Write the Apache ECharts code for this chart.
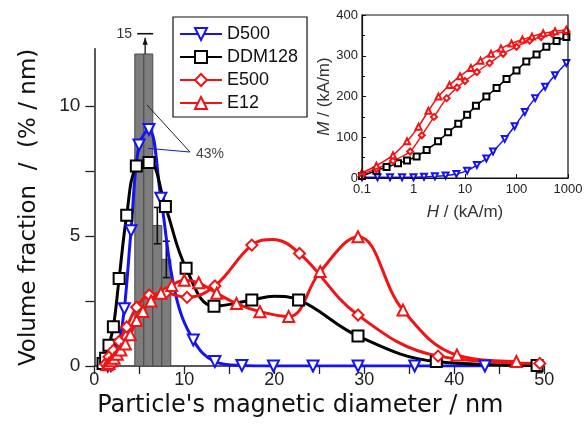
<!DOCTYPE html>
<html><head><meta charset="utf-8">
<script src="https://cdn.jsdelivr.net/npm/echarts@6/dist/echarts.min.js"></script>
<style>html,body{margin:0;padding:0;background:#fff}#c{width:586px;height:434px}</style>
</head><body><div id="c"></div>
<script>
// ---------- main chart data: [diameter / nm, volume fraction / (%/nm), (0 = curve point without marker)] ----------
const d500 = [[1.5,0],[1.84,0.02],[2.24,0.15],[2.74,0.8],[3.34,2.2],[4.08,5.2],[4.97,8.5],[6.07,9.1],[7.4,6.45],[9.0,2.8,0],[11.0,1.0],[13.4,0.17],[16.4,0.02],[19.9,0],[24.3,0],[29.3,0],[35.6,0],[43.4,0]];
const ddm128 = [[0.97,0.1],[1.26,0.3],[1.63,0.8],[2.12,1.51],[2.76,3.37],[3.6,5.8],[4.67,7.69],[6.08,7.83],[7.9,6.13],[10.2,3.76],[13.3,2.3],[17.5,2.54],[20.0,2.68,0],[22.7,2.54],[29.3,1.15],[38.0,0.17],[49.2,0.02]];
const e500 = [[1.25,0.08],[1.63,0.35],[2.12,0.6],[2.76,0.95],[3.6,1.5],[4.7,2.26],[6.1,2.73],[7.9,2.8],[10.3,2.64],[13.4,3.08],[17.5,4.65],[19.8,4.87,0],[22.8,4.33],[29.3,1.96],[38.2,0.38],[49.5,0.1]];
const e12 = [[1.4,0.05],[1.63,0.1],[1.9,0.2],[2.2,0.3],[2.55,0.45],[2.95,0.62],[3.45,0.85],[4.0,1.2],[4.7,1.75],[5.4,2.1],[6.3,2.5],[7.4,2.8],[8.6,3.1],[10.0,3.3],[11.6,3.2],[13.6,2.8],[15.8,2.4],[18.4,2.09],[21.6,1.9],[25.1,3.63],[29.3,4.97],[34.3,2.15],[40.3,0.42],[46.9,0.17]];

// histogram (1 nm bins)
const histCenters = [5, 6, 7, 8];
const histValues = [12, 15, 5.4, 4.1];
const histErrors = [0, 0, 0.7, 0.7];
const histBinWidth = 1;
const histCap = 12;          // bars taller than this are cut
const histArrowX = 5.65;     // overflow arrow position
const histArrowTop = 12.78;
const histOverflowLabel = '15';

// callout
const calloutText = '43%';
const calloutJoint = [10.63, 8.23];
const calloutBarPoint = [5.86, 10.04];
const calloutCurvePoint = [6.0, 8.37];

// ---------- inset data: [H / (kA/m), M / (kA/m)] ----------
const insD500 = [[0.1,2],[0.2,2],[0.35,2],[0.6,2],[1.0,2],[1.6,3],[2.6,4],[4.2,6],[6.8,10],[11,18],[17,32],[26,48],[35,65],[59,96],[92,127],[145,162],[230,196],[360,224],[560,252],[930,282]];
const insDDM128 = [[0.1,5],[0.19,18],[0.3,27],[0.5,36],[0.75,43],[1.15,53],[1.8,69],[3,90],[4.7,112],[7.4,133],[11,155],[16.3,177],[26,200],[41,221],[64,243],[100,264],[155,286],[245,303],[380,322],[600,336],[930,346]];
const insE500 = [[0.1,10],[0.19,22],[0.4,42],[0.86,65],[1.45,105],[2.5,150],[4.4,196],[7,222],[10,238],[17,260],[30,282],[55,305],[100,322],[180,337],[300,346],[500,353],[930,360]];
const insE12 = [[0.1,13],[0.19,30],[0.4,56],[0.75,90],[1.25,126],[1.95,165],[3.05,200],[5,228],[8,250],[13,270],[20,288],[32,305],[50,318],[80,330],[130,340],[200,347],[330,355],[560,360],[930,364]];

const yTickValues = [0, 2.5, 5, 7.5, 10];
const yLabelValues = [0, 5, 10];
const yMainMax = 12.2;

const BLUE = '#1414f0', BLACK = '#000000', RED = '#f01414';
const FONT = 'Liberation Sans, Arial, sans-serif';
const TFONT = 'DejaVu Sans, Verdana, sans-serif';

const chart = echarts.init(document.getElementById('c'), null, {renderer: 'canvas'});

const toData = arr => arr.map(p => (p[2] === 0 ? {value: [p[0], p[1]], symbol: 'none'} : [p[0], p[1]]));

function mainLine(name, data, color, symbol, rotate) {
  return {
    name, type: 'line', xAxisIndex: 0, yAxisIndex: 0, data: toData(data), smooth: 0.4,
    symbol, symbolSize: 11, symbolRotate: rotate || 0, showAllSymbol: true,
    itemStyle: {color, borderWidth: 1.8},
    lineStyle: {color, width: 3}, z: 3, animation: false
  };
}
function insetLine(name, data, color, symbol, rotate) {
  return {
    name, type: 'line', xAxisIndex: 1, yAxisIndex: 1, data, smooth: 0.3,
    symbol, symbolSize: 6, symbolRotate: rotate || 0, showAllSymbol: true,
    itemStyle: {color, borderWidth: 1.2},
    lineStyle: {color, width: 1.5}, z: 3, animation: false
  };
}

const option = {
  animation: false,
  backgroundColor: '#fff',
  grid: [
    {left: 94.3, top: 366 - yMainMax * 26, width: 450, height: yMainMax * 26},
    {left: 362, top: 15, width: 206, height: 163, show: true, borderColor: '#111', borderWidth: 1.2, backgroundColor: 'transparent', z: 5}
  ],
  legend: {
    data: ['D500','DDM128','E500','E12'],
    orient: 'vertical', left: 173, top: 17,
    itemWidth: 42, itemHeight: 15, itemGap: 5,
    padding: [8, 9, 5, 6],
    backgroundColor: '#fff', borderColor: '#111', borderWidth: 1.2,
    textStyle: {fontFamily: FONT, fontSize: 18, color: '#111'},
    selectedMode: false, z: 10
  },
  xAxis: [
    {type: 'value', gridIndex: 0, min: 0, max: 50, interval: 5,
     axisLine: {onZero: false, lineStyle: {color: '#222', width: 1.5}},
     axisTick: {length: 8, lineStyle: {color: '#222', width: 1.3}},
     axisLabel: {fontFamily: FONT, fontSize: 18, color: '#222', margin: 5,
                 formatter: v => (v % 10 === 0 ? String(v) : '')},
     splitLine: {show: false},
     name: "Particle's magnetic diameter / nm", nameLocation: 'middle', nameGap: 28,
     nameTextStyle: {fontFamily: TFONT, fontSize: 24, color: '#111', padding: [0, 38, 0, 0]}},
    {type: 'log', gridIndex: 1, min: 0.1, max: 1000, logBase: 10,
     axisLine: {lineStyle: {color: '#111', width: 1.2}},
     axisTick: {inside: true, length: 4, lineStyle: {color: '#111'}},
     axisLabel: {fontFamily: FONT, fontSize: 13, color: '#222', margin: 5,
                 formatter: v => String(+Number(v).toPrecision(4))},
     splitLine: {show: false},
     name: '{i|H} / (kA/m)', nameLocation: 'middle', nameGap: 26,
     nameTextStyle: {fontFamily: FONT, fontSize: 17, color: '#333',
                     rich: {i: {fontStyle: 'italic', fontFamily: FONT, fontSize: 17, color: '#333'}}}}
  ],
  yAxis: [
    {type: 'value', gridIndex: 0, min: 0, max: yMainMax, interval: 2.5,
     axisLine: {show: true, onZero: false, lineStyle: {color: '#222', width: 1.5}},
     axisTick: {show: true, length: 9, customValues: yTickValues, lineStyle: {color: '#222', width: 1.3}},
     axisLabel: {fontFamily: FONT, fontSize: 19, color: '#222', margin: 14, customValues: yLabelValues},
     splitLine: {show: false},
     name: 'Volume fraction  /  (% / nm)', nameLocation: 'middle', nameGap: 54,
     nameTextStyle: {fontFamily: TFONT, fontSize: 23, color: '#111'}},
    {type: 'value', gridIndex: 1, min: 0, max: 400, interval: 100,
     axisLine: {show: true, lineStyle: {color: '#111', width: 1.2}},
     axisTick: {show: true, inside: true, length: 4, lineStyle: {color: '#111'}},
     minorTick: {show: true, splitNumber: 2, length: 3, lineStyle: {color: '#111'}},
     axisLabel: {fontFamily: FONT, fontSize: 13, color: '#222', margin: 4},
     splitLine: {show: false},
     name: '{i|M} / (kA/m)', nameLocation: 'middle', nameGap: 28,
     nameTextStyle: {fontFamily: FONT, fontSize: 17, color: '#333',
                     rich: {i: {fontStyle: 'italic', fontFamily: FONT, fontSize: 17, color: '#333'}}}}
  ],
  series: [
    { // histogram
      type: 'custom', xAxisIndex: 0, yAxisIndex: 0, z: 1, silent: true,
      data: histCenters.map((c, i) => [c, Math.min(histValues[i], histCap), histErrors[i]]),
      renderItem(params, api) {
        const c = api.value(0), v = api.value(1), e = api.value(2);
        const p0 = api.coord([c - histBinWidth / 2, 0]);
        const p1 = api.coord([c + histBinWidth / 2, v]);
        const kids = [{type: 'rect', shape: {x: p0[0], y: p1[1], width: p1[0] - p0[0], height: p0[1] - p1[1]},
                       style: {fill: '#7d7d7d', stroke: '#4a4a4a', lineWidth: 1}}];
        if (e > 0) {
          const t = api.coord([c, v + e]), b = api.coord([c, v - e]);
          kids.push({type: 'line', shape: {x1: t[0], y1: t[1], x2: b[0], y2: b[1]}, style: {stroke: '#111', lineWidth: 1.6}});
          kids.push({type: 'line', shape: {x1: t[0] - 3.5, y1: t[1], x2: t[0] + 3.5, y2: t[1]}, style: {stroke: '#111', lineWidth: 1.6}});
          kids.push({type: 'line', shape: {x1: b[0] - 3.5, y1: b[1], x2: b[0] + 3.5, y2: b[1]}, style: {stroke: '#111', lineWidth: 1.6}});
        }
        return {type: 'group', children: kids};
      }
    },
    mainLine('D500', d500, BLUE, 'emptyTriangle', 180),
    mainLine('DDM128', ddm128, BLACK, 'emptyRect', 0),
    mainLine('E500', e500, RED, 'emptyDiamond', 0),
    mainLine('E12', e12, RED, 'emptyTriangle', 0),
    { // annotations: overflow arrow and 43% callout
      type: 'custom', xAxisIndex: 0, yAxisIndex: 0, z: 6, silent: true, data: [0],
      renderItem(params, api) {
        const a0 = api.coord([histArrowX, histCap]);
        const a1 = api.coord([histArrowX, histArrowTop]);
        const j = api.coord(calloutJoint), bp = api.coord(calloutBarPoint), cp = api.coord(calloutCurvePoint);
        return {type: 'group', children: [
          {type: 'line', shape: {x1: a0[0], y1: a0[1], x2: a0[0], y2: a1[1] + 4}, style: {stroke: '#111', lineWidth: 1.3}},
          {type: 'polygon', shape: {points: [[a1[0], a1[1] + 4], [a1[0] - 2.6, a1[1] + 11], [a1[0] + 2.6, a1[1] + 11]]}, style: {fill: '#111'}},
          {type: 'line', shape: {x1: a1[0] - 8, y1: a1[1], x2: a1[0] + 8, y2: a1[1]}, style: {stroke: '#111', lineWidth: 1.6}},
          {type: 'text', style: {text: histOverflowLabel, x: a1[0] - 13, y: a1[1], align: 'right', verticalAlign: 'middle',
                                 font: '14px ' + FONT, fill: '#333'}},
          {type: 'line', shape: {x1: bp[0], y1: bp[1], x2: j[0], y2: j[1]}, style: {stroke: '#222', lineWidth: 1}},
          {type: 'line', shape: {x1: cp[0], y1: cp[1], x2: j[0], y2: j[1]}, style: {stroke: BLUE, lineWidth: 1}},
          {type: 'text', style: {text: calloutText, x: j[0] + 6, y: j[1] + 2, align: 'left', verticalAlign: 'middle',
                                 font: '14px ' + FONT, fill: '#444'}}
        ]};
      }
    },
    insetLine('D500', insD500, BLUE, 'emptyTriangle', 180),
    insetLine('DDM128', insDDM128, BLACK, 'emptyRect', 0),
    insetLine('E500', insE500, RED, 'emptyDiamond', 0),
    insetLine('E12', insE12, RED, 'emptyTriangle', 0)
  ]
};
chart.setOption(option);
</script></body></html>
